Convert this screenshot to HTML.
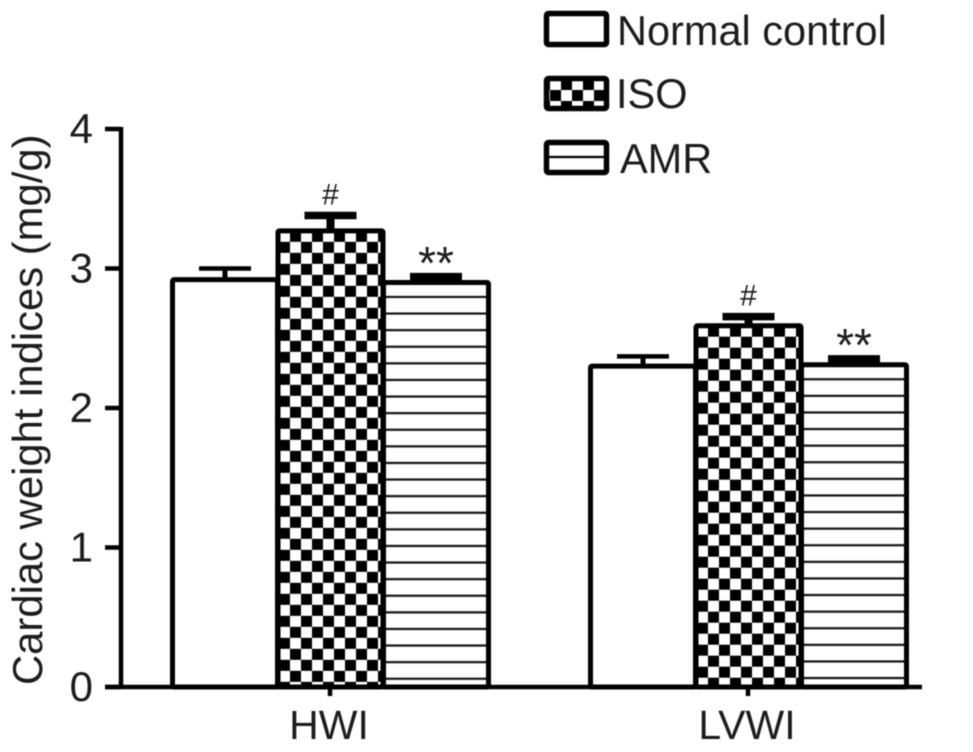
<!DOCTYPE html>
<html>
<head>
<meta charset="utf-8">
<title>Cardiac weight indices</title>
<style>
html,body{margin:0;padding:0;background:#fff;width:973px;height:752px;overflow:hidden}
svg{display:block;font-family:"Liberation Sans",sans-serif;filter:blur(0.5px)}
text{fill:#1c1c1c}
</style>
</head>
<body>
<svg id="chart" xmlns="http://www.w3.org/2000/svg" width="973" height="752" viewBox="0 0 973 752">
<defs id="defs">
<pattern id="legend-check" patternUnits="userSpaceOnUse" x="550" y="79" width="22" height="22">
<rect width="22" height="22" fill="#fff"/><rect x="11" width="11" height="11" fill="#000"/><rect y="11" width="11" height="11" fill="#000"/>
</pattern>
</defs>
<g id="bars"></g>
<g id="axes"></g>
<text transform="translate(42,685) rotate(-90)" font-size="41.8">Cardiac weight indices (mg/g)</text>
<g>
<g>
<rect x="546.5" y="13.5" width="60" height="31" rx="2" fill="#fff" stroke="#000" stroke-width="5.5"/>
<text x="617" y="45" font-size="41.5">Normal control</text>
</g>
<g>
<rect x="546.5" y="78.5" width="60" height="30" rx="2" fill="url(#legend-check)" stroke="#000" stroke-width="5.5"/>
<text x="616" y="108" font-size="41.5">ISO</text>
</g>
<g>
<rect x="546.5" y="142.5" width="60" height="30" rx="2" fill="#fff" stroke="#000" stroke-width="5.5"/>
<line x1="546" x2="607" y1="157" y2="157" stroke="#000" stroke-width="2.2"/>
<text x="620" y="173" font-size="41.5">AMR</text>
</g>
</g>
</svg>
<script>
const categories = ["HWI", "LVWI"];
const seriesNames = ["Normal control", "ISO", "AMR"];
const normalValues = [2.92, 2.30];
const isoValues = [3.27, 2.59];
const amrValues = [2.90, 2.31];
const normalErrors = [0.08, 0.07];
const isoErrors = [0.11, 0.065];
const amrErrors = [0.04, 0.04];
const isoMarks = ["#", "#"];
const amrMarks = ["**", "**"];
const yTickLabels = [0, 1, 2, 3, 4];

const NS = "http://www.w3.org/2000/svg";
const barsG = document.getElementById("bars");
const axesG = document.getElementById("axes");
const defs = document.getElementById("defs");
const yScale = v => 687 - v * 139.5;
const groupCenter = i => 330 + i * 418;
const barOffsets = [-105, 0.5, 106];
const barWidth = 105;
const seriesValues = [normalValues, isoValues, amrValues];
const seriesErrors = [normalErrors, isoErrors, amrErrors];
const capWeights = [4.5, 7.5, 8];
const stemWeights = [5, 8, 5];

function make(tag, attrs, parent) {
  const el = document.createElementNS(NS, tag);
  for (const k in attrs) el.setAttribute(k, attrs[k]);
  parent.appendChild(el);
  return el;
}
const slug = s => s.toLowerCase().replace(/\s+/g, "-");

seriesNames.forEach((name, s) => {
  categories.forEach((cat, c) => {
    const v = seriesValues[s][c];
    const e = seriesErrors[s][c];
    const cx = groupCenter(c) + barOffsets[s];
    const x0 = cx - barWidth / 2;
    const top = yScale(v);
    const bottom = yScale(0);
    let fill = "#fff";

    if (s === 1) {
      const p = make("pattern", {id: "check-" + c, patternUnits: "userSpaceOnUse", x: x0 + 1, y: top, width: 22, height: 22}, defs);
      make("rect", {width: 22, height: 22, fill: "#fff"}, p);
      make("rect", {x: 11, width: 11, height: 11, fill: "#000"}, p);
      make("rect", {y: 11, width: 11, height: 11, fill: "#000"}, p);
      fill = "url(#check-" + c + ")";
    }
    if (s === 2) {
      const p = make("pattern", {id: "stripe-" + c, patternUnits: "userSpaceOnUse", x: x0, y: top + 14.5 - 16.6 / 2, width: 20, height: 16.6}, defs);
      make("rect", {width: 20, height: 16.6, fill: "#fff"}, p);
      make("rect", {y: 7.2, width: 20, height: 2.2, fill: "#111"}, p);
      fill = "url(#stripe-" + c + ")";
    }

    const stem = make("line", {x1: cx, x2: cx, y1: top, y2: yScale(v + e), stroke: "#000", "stroke-width": stemWeights[s]}, barsG);
    
    

    const cap = make("line", {x1: cx - 26, x2: cx + 26, y1: yScale(v + e), y2: yScale(v + e), stroke: "#000", "stroke-width": capWeights[s]}, barsG);
    
    

    const bar = make("rect", {x: x0, y: top, width: barWidth, height: bottom - top, fill: fill, stroke: "#000", "stroke-width": 5, rx: 1.5}, barsG);
    
    

    const markText = s === 1 ? isoMarks[c] : s === 2 ? amrMarks[c] : "";
    if (markText) {
      const mark = make("text", {x: cx, "text-anchor": "middle", y: yScale(v + e) + (s === 1 ? -11 : 2), "font-size": s === 1 ? 30 : 46}, barsG);
      mark.textContent = markText;
      
      
    }
  });
});

const yAxisLine = make("line", {x1: 121, x2: 121, y1: yScale(4) - 2, y2: yScale(0) + 2, stroke: "#000", "stroke-width": 4.5}, axesG);



const xAxisLine = make("line", {x1: 105, x2: 922, y1: yScale(0), y2: yScale(0), stroke: "#000", "stroke-width": 4.5}, axesG);



yTickLabels.forEach(t => {
  const tick = make("line", {x1: 105, x2: 121, y1: yScale(t), y2: yScale(t), stroke: "#000", "stroke-width": 4.5}, axesG);
  
  

  const label = make("text", {x: 93, y: yScale(t) + 14, "text-anchor": "end", "font-size": 42}, axesG);
  label.textContent = t;
  
  
});

categories.forEach((cat, c) => {
  const cx = groupCenter(c);
  const tick = make("line", {x1: cx, x2: cx, y1: yScale(0), y2: yScale(0) + 9, stroke: "#000", "stroke-width": 4.5}, axesG);
  
  

  const label = make("text", {x: cx - 1, y: 739, "text-anchor": "middle", "font-size": 41}, axesG);
  label.textContent = cat;
  
  
});
</script>
</body>
</html>
